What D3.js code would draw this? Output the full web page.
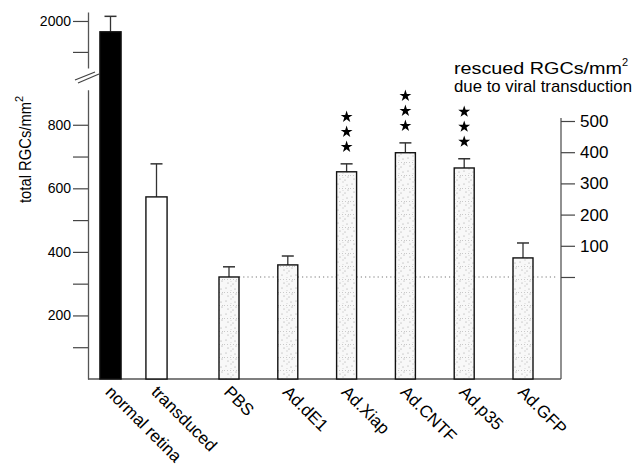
<!DOCTYPE html>
<html><head><meta charset="utf-8">
<script src="https://cdn.jsdelivr.net/npm/d3@7"></script>
<style>
body{margin:0;background:#fff}
text{font-family:Arial,"Liberation Sans",Helvetica,sans-serif;fill:#000}
</style>
</head><body>
<svg id="c" width="633" height="465"></svg>
<script>
// ---- data ----
const controlCats = ["normal retina", "transduced"];
const controlMeans = [1965, 573];
const controlErr = [50, 104];
const viralCats = ["PBS", "Ad.dE1", "Ad.Xiap", "Ad.CNTF", "Ad.p35", "Ad.GFP"];
const viralMeans = [321, 359, 652, 712, 664, 381];
const viralErr = [32, 28, 25, 31, 29, 47];
const viralStars = [0, 0, 3, 3, 3, 0];
const leftTicksLower = [100, 200, 300, 400, 500, 600, 700, 800];
const leftTicksUpper = [1900, 2000];
const rightTicks = [0, 100, 200, 300, 400, 500];

const svg = d3.select("#c");

// ---- defs: stippled fill ----
const defs = svg.append("defs");
const pat = defs.append("pattern").attr("id", "stip")
  .attr("width", 14).attr("height", 13).attr("patternUnits", "userSpaceOnUse");
pat.append("rect").attr("width", 14).attr("height", 13).attr("fill", "#f8f8f8");
pat.append("line").attr("x1", 0).attr("x2", 14).attr("y1", 6.5).attr("y2", 6.5)
  .attr("stroke", "#b5b5b5").attr("stroke-width", 0.7).attr("stroke-dasharray", "1,2");
pat.append("line").attr("x1", 7).attr("x2", 7).attr("y1", 0).attr("y2", 13)
  .attr("stroke", "#c8c8c8").attr("stroke-width", 0.7).attr("stroke-dasharray", "1,3");
[[2,2],[11,3],[4,10],[9,11],[12,8]].forEach(([x,y]) =>
  pat.append("circle").attr("cx", x).attr("cy", y).attr("r", 0.55).attr("fill", "#999"));

// ---- scales ----
const axisX = 88, rightX = 561, baseY = 379;
const yL = d3.scaleLinear().domain([0, 910]).range([baseY, 89.8]);
const yU = d3.scaleLinear().domain([1848, 2029]).range([68, 12]);
const xC = d3.scaleBand().domain(controlCats).range([87.5, 179.5]).paddingInner(0.54).paddingOuter(0.27);
const xV = d3.scaleBand().domain(viralCats).range([199.6, 552.4]).paddingInner(0.66).paddingOuter(0.33);
const yR = d3.scaleLinear().domain([0, 500]).range([yL(viralMeans[0]), 121]);

// ---- dotted reference line (PBS level) ----
svg.append("line")
  .attr("x1", xV("PBS") + xV.bandwidth()).attr("x2", rightX - 4)
  .attr("y1", yR(0)).attr("y2", yR(0))
  .attr("stroke", "#777").attr("stroke-width", 1.1).attr("stroke-dasharray", "1.2,3");

// ---- left axes ----
const gL = svg.append("g").attr("transform", `translate(${axisX},0)`);
gL.call(d3.axisLeft(yL).tickValues(leftTicksLower).tickSize(15).tickSizeOuter(0).tickPadding(2)
  .tickFormat(d => d % 200 === 0 ? d : ""));
const gU = svg.append("g").attr("transform", `translate(${axisX},0)`);
gU.call(d3.axisLeft(yU).tickValues(leftTicksUpper).tickSize(15).tickSizeOuter(0).tickPadding(2)
  .tickFormat(d => d === 2000 ? d : ""));
[gL, gU].forEach(g => {
  g.selectAll("path.domain").attr("stroke", "#555").attr("stroke-width", 1.3);
  g.selectAll(".tick line").attr("stroke", "#444").attr("stroke-width", 1.2);
  g.selectAll(".tick text").attr("font-size", 14).attr("fill", "#000");
});

// axis break marks
svg.append("line").attr("x1", 75).attr("y1", 80).attr("x2", 95).attr("y2", 72)
  .attr("stroke", "#444").attr("stroke-width", 1.2);
svg.append("line").attr("x1", 78).attr("y1", 83).attr("x2", 99).attr("y2", 74)
  .attr("stroke", "#444").attr("stroke-width", 1.2);

// baseline
svg.append("line").attr("x1", axisX).attr("x2", rightX).attr("y1", baseY).attr("y2", baseY)
  .attr("stroke", "#555").attr("stroke-width", 1.4);

// ---- right axis ----
svg.append("line").attr("x1", rightX).attr("x2", rightX).attr("y1", 118).attr("y2", baseY)
  .attr("stroke", "#555").attr("stroke-width", 1.3);
const gR = svg.append("g").attr("transform", `translate(${rightX},0)`);
gR.call(d3.axisRight(yR).tickValues(rightTicks).tickSize(14).tickSizeOuter(0).tickPadding(5)
  .tickFormat(d => d === 0 ? "" : d));
gR.select("path.domain").remove();
gR.selectAll(".tick line").attr("stroke", "#444").attr("stroke-width", 1.2);
gR.selectAll(".tick text").attr("font-size", 17).attr("fill", "#000");

// ---- bars ----
function drawBar(x, w, yTop, yErr, fill) {
  svg.append("line").attr("x1", x + w / 2).attr("x2", x + w / 2).attr("y1", yTop).attr("y2", yErr)
    .attr("stroke", "#333").attr("stroke-width", 1.3);
  svg.append("line").attr("x1", x + w / 2 - 6).attr("x2", x + w / 2 + 6).attr("y1", yErr).attr("y2", yErr)
    .attr("stroke", "#333").attr("stroke-width", 1.5);
  svg.append("rect").attr("x", x).attr("y", yTop).attr("width", w).attr("height", baseY - yTop)
    .attr("fill", fill).attr("stroke", "#111").attr("stroke-width", 1.4);
}
// normal retina (upper scale)
drawBar(xC(controlCats[0]), xC.bandwidth(), yU(controlMeans[0]), yU(controlMeans[0] + controlErr[0]), "#000");
// transduced
drawBar(xC(controlCats[1]), xC.bandwidth(), yL(controlMeans[1]), yL(controlMeans[1] + controlErr[1]), "#fff");
// viral
viralCats.forEach((c, i) => {
  drawBar(xV(c), xV.bandwidth(), yL(viralMeans[i]), yL(viralMeans[i] + viralErr[i]), "url(#stip)");
  const cx = xV(c) + xV.bandwidth() / 2;
  for (let k = 0; k < viralStars[i]; k++) {
    svg.append("path").attr("d", d3.symbol(d3.symbolStar, 44)())
      .attr("transform", `translate(${cx},${yL(viralMeans[i] + viralErr[i]) - 17 - 15 * k})`)
      .attr("fill", "#000");
  }
});

// ---- category labels ----
const allCats = controlCats.map(c => [c, xC(c) + xC.bandwidth() / 2])
  .concat(viralCats.map(c => [c, xV(c) + xV.bandwidth() / 2]));
allCats.forEach(([c, cx]) => {
  svg.append("text").attr("transform", `translate(${cx - 6},393) rotate(45)`)
    .attr("font-size", 17).text(c);
});

// ---- titles ----
const lt = svg.append("text").attr("transform", "translate(31,203) rotate(-90)").attr("font-size", 16);
lt.append("tspan").attr("textLength", 101).attr("lengthAdjust", "spacingAndGlyphs").text("total RGCs/mm");
lt.append("tspan").attr("dy", -8).attr("font-size", 11).text("2");

const rt1 = svg.append("text").attr("x", 454).attr("y", 74).attr("font-size", 17);
rt1.append("tspan").attr("textLength", 168).attr("lengthAdjust", "spacingAndGlyphs").text("rescued RGCs/mm");
rt1.append("tspan").attr("dy", -8).attr("font-size", 11).text("2");
svg.append("text").attr("x", 454).attr("y", 92).attr("font-size", 17)
  .attr("textLength", 178).attr("lengthAdjust", "spacingAndGlyphs").text("due to viral transduction");
</script>
</body></html>
